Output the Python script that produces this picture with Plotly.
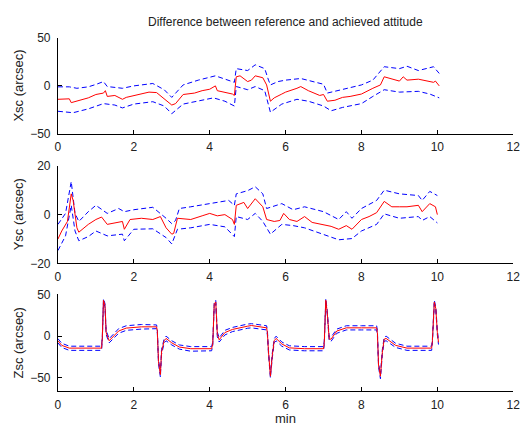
import plotly.graph_objects as go

# ---------------- data ----------------
X_T = [0, 0.3, 0.35, 0.5, 0.8, 1.0, 1.2, 1.25, 1.3, 1.5, 1.7, 1.8, 2.0, 2.2, 2.4, 2.6, 2.8, 3.0, 3.1, 3.3,
       3.6, 3.8, 4.0, 4.15, 4.2, 4.4, 4.6, 4.65, 4.7, 4.8, 5.0, 5.1, 5.2, 5.4, 5.5, 5.6, 5.7, 5.9, 6.0, 6.3,
       6.4, 6.6, 6.9, 7.0, 7.1, 7.3, 7.5, 7.7, 8.0, 8.3, 8.5, 8.6, 8.8, 9.0, 9.1, 9.2, 9.5, 9.7, 9.9, 9.95, 10.05]
X_MEAN = [-14, -13.5, -17.5, -16, -12.5, -9, -7.5, -5, -11, -10, -14, -12, -10, -8.5, -6.5, -7, -14, -20, -18.5, -9,
          -7.5, -5, -3.5, 0, -5, -6.5, -8.5, -10, 9.5, 10.5, 4.5, 6, 10.5, 8.5, 1, -16, -12.5, -8.5, -6.5, -2.5,
          -0.7, -5, -10, -9, -16, -15, -12, -11, -8.5, -2.5, 1, 9.5, 7.5, 5, 9.5, 6, 7, 5, 3.7, 5, 0]
X_UP_T = [0, 0.3, 0.5, 0.8, 1.0, 1.2, 1.3, 1.7, 2.0, 2.5, 2.8, 3.0, 3.3, 3.7, 4.15, 4.4, 4.65, 4.7, 5.0, 5.2,
          5.45, 5.55, 5.6, 5.8, 6.0, 6.4, 6.7, 7.0, 7.1, 7.5, 8.0, 8.3, 8.6, 9.0, 9.2, 9.5, 9.8, 9.9, 10.05]
X_UP = [-1, -1, -2.5, -1, 1.5, 4.5, -0.7, -2.5, 0, 2.5, -4, -12, 1, 6, 10.5, 7, 3.7, 18, 16, 22,
        18, 6, 1, 4.5, 6, 7.7, 5, 1.7, -7.5, -4, 1, 6, 20, 18, 20.5, 16, 18.5, 20, 13]
X_LO_T = [0, 0.4, 0.8, 1.2, 1.5, 1.7, 2.0, 2.5, 2.8, 3.0, 3.3, 3.7, 4.1, 4.4, 4.65, 4.7, 5.0, 5.2, 5.45, 5.6,
          5.9, 6.3, 6.6, 7.0, 7.2, 7.5, 8.0, 8.3, 8.6, 9.0, 9.5, 9.8, 10.05]
X_LO = [-26.5, -28, -24, -18.5, -20, -23, -19, -16.5, -21, -29, -19, -16, -12.5, -16, -21, -0.7, -4, -0.7, -5, -27.5,
        -19, -14, -16, -21, -26, -22.5, -18.5, -11, -4, -6.5, -5.7, -8.5, -12.5]

Y_T = [0, 0.1, 0.25, 0.35, 0.4, 0.5, 0.55, 0.8, 1.0, 1.15, 1.3, 1.5, 1.7, 1.75, 1.9, 2.2, 2.5, 2.7, 2.85, 3.0,
       3.05, 3.15, 3.5, 3.8, 4.0, 4.2, 4.4, 4.6, 4.65, 4.7, 4.9, 5.0, 5.2, 5.4, 5.5, 5.7, 5.85, 5.95, 6.1, 6.3,
       6.5, 6.7, 7.0, 7.2, 7.4, 7.6, 7.75, 8.0, 8.2, 8.4, 8.6, 8.8, 9.0, 9.2, 9.5, 9.6, 9.8, 9.95, 10.0]
Y_MEAN = [-10, -6.7, -2.8, 8.5, 5.8, -5.4, -7.2, -4, -2, -1, -4, -3.5, -2.8, -6, -2, -1.5, -2, -0.8, -5.4, -8,
          -7.7, -1.5, -2, -0.5, 0.5, -0.5, 0, -2, -4, 3.8, 5, 2.5, 6.5, 3.2, -2, -2.8, -2.4, 0.5, -2, -2.8,
          -0.8, -3.2, -4, -4.8, -6, -4.5, -6, -2, -0.8, 0.8, 5.4, 3.2, 3.2, 3.2, 3.8, 1.2, 4.5, 3.2, 0]
Y_UP_T = [0, 0.2, 0.35, 0.45, 0.55, 0.8, 1.0, 1.3, 1.6, 1.75, 2.0, 2.5, 2.85, 3.0, 3.1, 3.2, 3.5, 4.0, 4.5, 4.65,
          4.7, 5.0, 5.2, 5.4, 5.5, 5.9, 6.2, 6.5, 7.0, 7.4, 7.6, 7.75, 8.0, 8.4, 8.6, 9.0, 9.5, 9.6, 9.8, 10.0]
Y_UP = [-4, 0.5, 13.5, 0.5, -2.8, 1.2, 3.8, 0.5, 2.5, 1.2, 2, 3, -1.5, -3.7, -2.4, 2.5, 3.2, 4.5, 5.8, 3.8,
        8.5, 9.8, 11.4, 8.5, 2.5, 4.5, 2, 3.2, 1.2, -2, 1.2, -1.5, 2.5, 5.8, 10, 8.5, 7.8, 5.8, 9.5, 7.8]
Y_LO_T = [0, 0.2, 0.35, 0.45, 0.55, 0.8, 1.0, 1.3, 1.7, 1.75, 2.0, 2.5, 2.85, 3.0, 3.15, 3.5, 4.0, 4.4, 4.65, 4.7,
          5.0, 5.2, 5.4, 5.6, 5.9, 6.2, 6.5, 7.0, 7.4, 7.75, 8.0, 8.4, 8.6, 9.0, 9.5, 9.6, 9.8, 10.0]
Y_LO = [-14.7, -8.7, 3.8, -6.7, -10.7, -9, -6.7, -8.7, -8, -10.7, -6, -5.8, -9.4, -12, -6, -5.4, -4, -5, -9, -0.8,
        -2, 0.5, -2.8, -8, -4, -4.5, -5.4, -8, -10.3, -9.8, -6.7, -4, 0.3, -1.5, -0.8, -2.4, -0.8, -3.4]

Z_T = [0, 0.1, 0.3, 1.15, 1.17, 1.2, 1.24, 1.27, 1.35, 1.45, 1.6, 1.8, 2.2, 2.6, 2.62, 2.65, 2.7, 2.73, 2.8, 2.85,
       3.0, 3.2, 3.5, 4.05, 4.08, 4.12, 4.16, 4.2, 4.25, 4.4, 4.6, 5.0, 5.1, 5.5, 5.52, 5.55, 5.6, 5.65, 5.7, 5.75,
       5.9, 6.1, 6.5, 7.0, 7.02, 7.06, 7.1, 7.15, 7.2, 7.35, 7.6, 8.0, 8.4, 8.42, 8.45, 8.5, 8.55, 8.6, 8.65, 8.9,
       9.2, 9.85, 9.87, 9.92, 9.96, 10.0, 10.03]
Z_MEAN = [-5.4, -11, -14.3, -14.3, -1.5, 43, 37, 4.3, -5.4, -0.4, 6.2, 9.7, 11.2, 11.2, 6, -30.6, -46, -19, -5.4, -2.7,
          -8, -13, -15, -15, -9.3, 39, 41, 2.3, -4.3, 4.3, 8.1, 12, 12.8, 10, 4.3, -19, -48, -23, -5.4, -2.7,
          -9.3, -14, -15, -15, -7.4, 43, 27.5, -3.5, -3.5, 6.2, 10, 10, 10, 4.3, -34.5, -48, -19, -3.5, -2.7, -11,
          -14.3, -14.3, -5.4, 41, 33, 4.3, -7.4]
Z_UP = [-3, -8.5, -12, -12, 1, 45, 39, 7, -3, 2, 9, 12.5, 14, 13.5, 8, -28, -44, -16, -3, 0,
        -5.5, -10.5, -12.5, -12.5, -7, 41, 43, 5, -2, 7, 10.5, 14.5, 15, 12.5, 7, -17, -46, -20, -3, 0,
        -7, -11.5, -12.5, -12.5, -5, 45, 30, -1, -1, 8.5, 12.5, 12.5, 12.5, 7, -32, -46, -16, -1, 0, -8.5,
        -12, -12, -3, 43, 35, 7, -5]
Z_LO = [-8, -13.5, -17, -17, -4, 41, 35, 2, -8, -3, 3.5, 7, 8.5, 9, 3.5, -33, -49, -22, -8, -5.5,
        -10.5, -15.5, -18, -17.5, -12, 37, 39, -0.5, -7, 1.5, 5.5, 9.5, 10, 7.5, 1.5, -22, -50, -26, -8, -5.5,
        -12, -16.5, -17.5, -17.5, -10, 41, 25, -6, -6, 3.5, 7.5, 7.5, 7.5, 1.5, -37, -51, -22, -6, -5.5, -13.5,
        -17, -17, -8, 39, 31, 1.5, -10]

X_TICKS = [0, 2, 4, 6, 8, 10, 12]
Y_LABELS = ["Xsc (arcsec)", "Ysc (arcsec)", "Zsc (arcsec)"]
TITLE = "Difference between reference and achieved attitude"
XLABEL = "min"

# ---------------- figure ----------------
W, H = 532, 436
FONT = "Liberation Sans, Arial, Helvetica, sans-serif"
TXT = "#222222"
BLUE = "#0000ff"
RED = "#ff0000"
DASH = "5px,3px"

panels = [
    (X_T, X_MEAN, X_UP_T, X_UP, X_LO_T, X_LO, [-50, 50], [-50, 0, 50], (32, 131)),
    (Y_T, Y_MEAN, Y_UP_T, Y_UP, Y_LO_T, Y_LO, [-20, 20], [-20, 0, 20], (164, 265)),
    (Z_T, Z_MEAN, Z_T, Z_UP, Z_T, Z_LO, [-66, 50], [-50, 0, 50], (297, 397)),
]

fig = go.Figure()
layout = dict(
    width=W, height=H,
    margin=dict(l=0, r=0, t=0, b=0),
    paper_bgcolor="white", plot_bgcolor="white",
    showlegend=False,
    font=dict(family=FONT, size=12, color=TXT),
)

xdom = [56 / W, 520 / W]
annotations = []
for i, (t, m, ut, u, lt, lo, yr, yt, (ptop, pbot)) in enumerate(panels):
    k = "" if i == 0 else str(i + 1)
    xa, ya = "x" + k, "y" + k
    for tt, vv, col, dash in ((ut, u, BLUE, DASH), (lt, lo, BLUE, DASH), (t, m, RED, "solid")):
        fig.add_trace(go.Scatter(x=tt, y=vv, mode="lines", xaxis=xa, yaxis=ya,
                                 line=dict(color=col, width=1, dash=dash), hoverinfo="skip"))
    common = dict(showline=True, linecolor="#000000", linewidth=1, ticks="inside", ticklen=4,
                  tickcolor="#000000", showgrid=False, zeroline=False, mirror=False,
                  tickfont=dict(family=FONT, size=12, color=TXT))
    layout["xaxis" + k] = dict(domain=xdom, range=[0, 12], tickvals=X_TICKS, anchor=ya,
                               ticklabelstandoff=2, **common)
    layout["yaxis" + k] = dict(domain=[1 - pbot / H, 1 - ptop / H], range=yr, tickvals=yt, anchor=xa,
                               ticklabelstandoff=4, **common)
    annotations.append(dict(text=Y_LABELS[i], xref="paper", yref="paper", x=16 / W,
                            y=1 - (ptop + pbot) / 2 / H, textangle=-90, showarrow=False,
                            xanchor="center", yanchor="middle",
                            font=dict(family=FONT, size=13, color=TXT)))

annotations.append(dict(text=TITLE, xref="paper", yref="paper", x=288 / W, y=1 - 16 / H,
                        showarrow=False, xanchor="center", yanchor="middle",
                        font=dict(family=FONT, size=12, color=TXT)))
annotations.append(dict(text=XLABEL, xref="paper", yref="paper", x=288 / W, y=1 - 425 / H,
                        showarrow=False, xanchor="center", yanchor="middle",
                        font=dict(family=FONT, size=13, color=TXT)))
layout["annotations"] = annotations
fig.update_layout(**layout)
fig.write_html("out.html", config={"displayModeBar": False},
               post_script="document.body.style.margin='0';document.body.style.overflow='hidden';")
